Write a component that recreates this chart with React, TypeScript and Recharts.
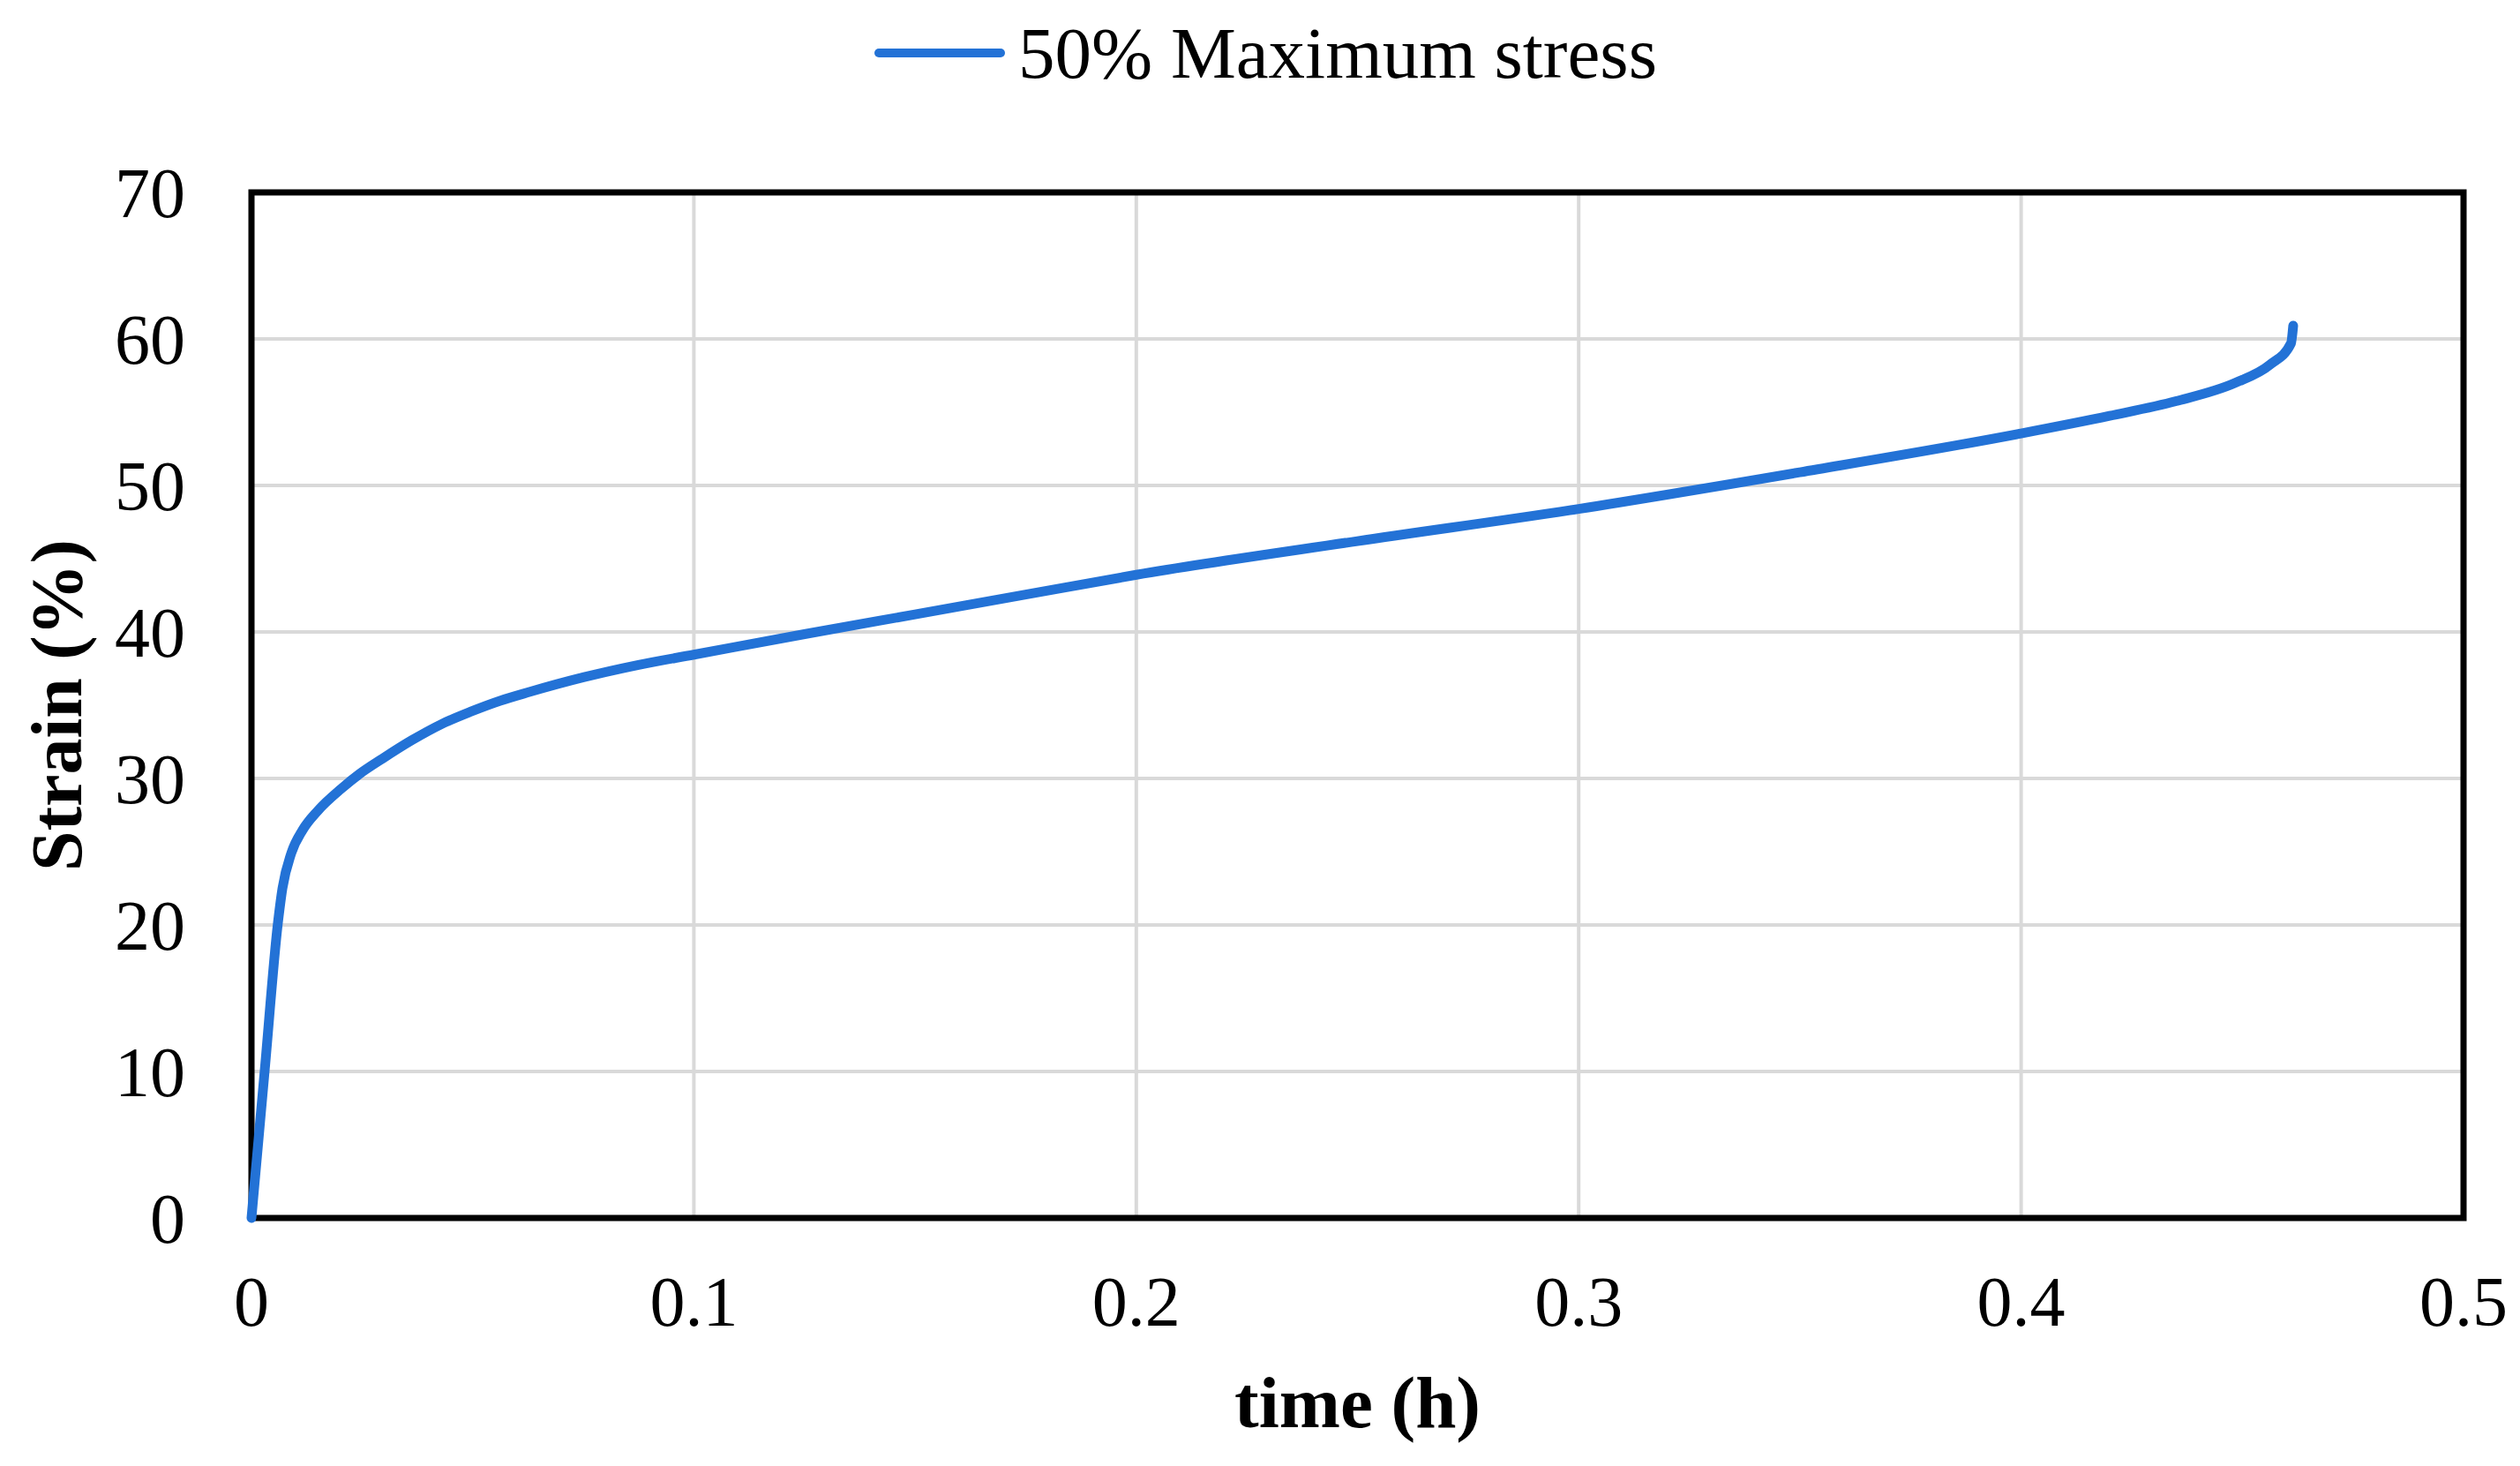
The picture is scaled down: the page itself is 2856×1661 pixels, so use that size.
import React from "react";
import {
  LineChart,
  Line,
  XAxis,
  YAxis,
  CartesianGrid,
  Legend,
  ReferenceArea
} from "recharts";

// time (h)
const times = [
  0, 0.003, 0.006, 0.007, 0.009, 0.0116, 0.015, 0.0203, 0.0244, 0.0296,
  0.0362, 0.0429, 0.0495, 0.0562, 0.0628, 0.075, 0.0875, 0.1, 0.125, 0.15,
  0.175, 0.2, 0.25, 0.3, 0.35, 0.4, 0.42, 0.435, 0.4484, 0.4563, 0.461,
  0.4615
];
// strain (%)
const strain = [
  0, 10.1, 20.2, 22.5, 24.9, 26.5, 27.8, 29.3, 30.3, 31.35,
  32.6, 33.7, 34.55, 35.3, 35.9, 36.9, 37.75, 38.45, 39.85, 41.2,
  42.55, 43.9, 46.2, 48.4, 50.9, 53.55, 54.75, 55.75, 57.0, 58.25, 59.7,
  60.9
];
const xTicks = [0, 0.1, 0.2, 0.3, 0.4, 0.5];
const yTicks = [0, 10, 20, 30, 40, 50, 60, 70];
const seriesName = "50% Maximum stress";

const data = times.map((t, i) => ({ t, strain: strain[i] }));

const BLUE = "#2372D6";
const FONT = "'Liberation Serif', 'Times New Roman', serif";

const LegendBox = () => (
  <div
    style={{
      display: "flex",
      alignItems: "center",
      justifyContent: "center",
      height: 100,
      paddingLeft: 12,
      fontFamily: FONT,
      fontSize: 83,
      color: "#000"
    }}
  >
    <svg width={150} height={14} style={{ marginRight: 14 }}>
      <line x1={6} y1={7} x2={144} y2={7} stroke={BLUE} strokeWidth={10} strokeLinecap="round" />
    </svg>
    <span>{seriesName}</span>
  </div>
);

const YLabel = (props: any) => {
  const vb = props.viewBox || {};
  const cx = 64;
  const cy = vb.y + vb.height / 2;
  return (
    <text
      x={cx}
      y={cy}
      transform={`rotate(-90, ${cx}, ${cy})`}
      textAnchor="middle"
      dominantBaseline="central"
      fontFamily={FONT}
      fontWeight="bold"
      fontSize={82}
      fill="#000"
    >
      Strain (%)
    </text>
  );
};

export default function App() {
  const tickStyle = { fontFamily: FONT, fontSize: 80, fill: "#000" };
  return (
    <div style={{ position: "absolute", left: 0, top: 0, background: "#fff" }}>
      <LineChart
        width={2856}
        height={1661}
        data={data}
        margin={{ top: 118, right: 64, left: 0, bottom: 0 }}
      >
        <Legend
          verticalAlign="top"
          wrapperStyle={{ top: 10, left: 0, width: 2856 }}
          content={() => <LegendBox />}
        />
        <CartesianGrid stroke="#d9d9d9" strokeWidth={4} />
        <XAxis
          type="number"
          dataKey="t"
          domain={[0, 0.5]}
          ticks={xTicks}
          tickFormatter={(v) => String(v)}
          axisLine={false}
          tickLine={false}
          tickSize={0}
          tickMargin={65}
          height={281}
          tick={tickStyle}
          label={{
            value: "time (h)",
            position: "insideBottom",
            offset: 44,
            fontFamily: FONT,
            fontWeight: "bold",
            fontSize: 83,
            fill: "#000"
          }}
        />
        <YAxis
          type="number"
          domain={[0, 70]}
          ticks={yTicks}
          axisLine={false}
          tickLine={false}
          tickSize={0}
          tickMargin={75}
          width={285}
          tick={tickStyle}
          label={<YLabel />}
        />
        <ReferenceArea
          x1={0}
          x2={0.5}
          y1={0}
          y2={70}
          fill="none"
          stroke="#000"
          strokeWidth={7}
          fillOpacity={0}
        />
        <Line
          type="monotone"
          dataKey="strain"
          name={seriesName}
          stroke={BLUE}
          strokeWidth={11}
          strokeLinecap="round"
          dot={false}
          isAnimationActive={false}
        />
      </LineChart>
    </div>
  );
}
